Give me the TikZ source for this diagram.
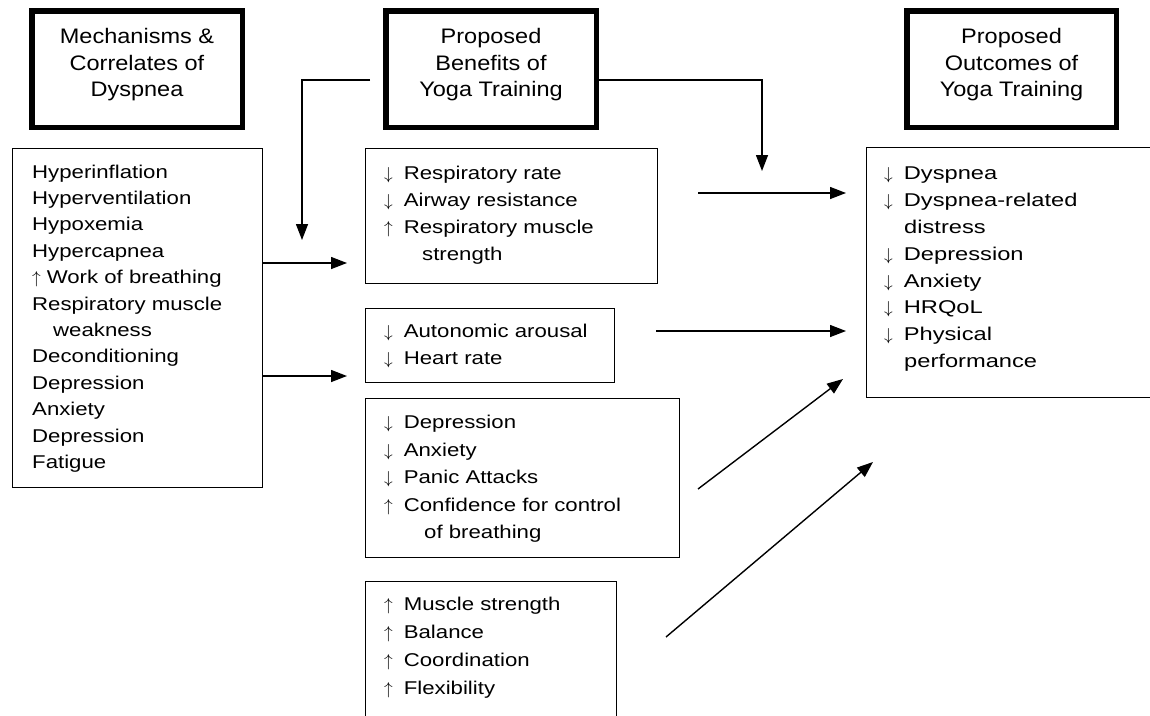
\documentclass[tikz,border=0pt]{standalone}
\usepackage{fontspec}
\setmainfont[FakeStretch=1.2]{Liberation Sans}
\newfontfamily\hdfont[FakeStretch=1.12]{Liberation Sans}
\newfontfamily\ofont[FakeStretch=1.28]{Liberation Sans}
\newcommand{\myup}{$\uparrow$\hspace{11pt}}
\newcommand{\mydown}{$\downarrow$\hspace{11pt}}
\usetikzlibrary{arrows.meta}
\begin{document}
\begin{tikzpicture}[x=1pt,y=-1pt,
  hdbox/.style={draw, line width=5.5pt, inner sep=0pt, outer sep=0pt},
  box/.style={draw, line width=1.4pt, inner sep=0pt, outer sep=0pt},
  openbox/.style={line width=1.4pt},
  txt/.style={anchor=north west, inner sep=0pt, align=left, font=\fontsize{18.5}{#1}\selectfont},
  otxt/.style={anchor=north west, inner sep=0pt, align=left, font=\ofont\fontsize{18.5}{#1}\selectfont},
  hdtxt/.style={inner sep=0pt, align=center, font=\hdfont\fontsize{21}{26.5}\selectfont},
  conn/.style={line width=1.4pt, -{Triangle[length=16pt,width=12pt]}}
  ]
\useasboundingbox (0,0) rectangle (1150,715);
\fill[white] (0,0) rectangle (1150,715);

% header boxes
\node[hdbox, minimum width=210.5pt, minimum height=116.5pt] (H1) at (137,69) {};
\node[hdbox, minimum width=210.5pt, minimum height=116.5pt] (H2) at (491,69) {};
\node[hdbox, minimum width=209.5pt, minimum height=116.5pt] (H3) at (1011.5,69) {};
\node[hdtxt] (H1t) at (137,65) {Mechanisms \&\\Correlates of\\Dyspnea};
\node[hdtxt] (H2t) at (491,65) {Proposed\\Benefits of\\Yoga Training};
\node[hdtxt] (H3t) at (1011.5,65) {Proposed\\Outcomes of\\Yoga Training};

% content boxes
\node[box, minimum width=249.6pt, minimum height=338.6pt] (L) at (137.5,318) {};
\node[box, minimum width=291.6pt, minimum height=134.6pt] (B1) at (511.5,216) {};
\node[box, minimum width=248.6pt, minimum height=73.6pt] (B2) at (490,345.5) {};
\node[box, minimum width=313.6pt, minimum height=158.6pt] (B3) at (522.5,478) {};
\coordinate (B4nw) at (365.7,581.7);
\coordinate (B4ne) at (616.3,581.7);
\draw[openbox] (B4nw |- 0,716) -- (B4nw) -- (B4ne) -- (B4ne |- 0,716);
\coordinate (Onw) at (866.7,147.7);
\coordinate (Osw) at (866.7,397.3);
\draw[openbox] (1151,147.7) -- (Onw) -- (Osw) -- (1151,397.3);

% texts
\node[txt=26.4] (Lt) at (32,159.4) {\strut Hyperinflation\\Hyperventilation\\Hypoxemia\\Hypercapnea\\$\uparrow$\hspace{6pt}Work of breathing\\Respiratory muscle\\\hspace*{21pt}weakness\\Deconditioning\\Depression\\Anxiety\\Depression\\Fatigue};
\node[txt=27] (B1t) at (384,160.4) {\strut \mydown Respiratory rate\\\mydown Airway resistance\\\myup Respiratory muscle\\\hspace*{38pt}strength};
\node[txt=27] (B2t) at (384,318.4) {\strut \mydown Autonomic arousal\\\mydown Heart rate};
\node[txt=27.5] (B3t) at (384,409.4) {\strut \mydown Depression\\\mydown Anxiety\\\mydown Panic Attacks\\\myup Confidence for control\\\hspace*{40pt}of breathing};
\node[txt=28] (B4t) at (384,590.4) {\strut \myup Muscle strength\\\myup Balance\\\myup Coordination\\\myup Flexibility};
\node[otxt=26.9] (Ot) at (884,160.4) {\strut \mydown Dyspnea\\\mydown Dyspnea-related\\\hspace*{20pt}distress\\\mydown Depression\\\mydown Anxiety\\\mydown HRQoL\\\mydown Physical\\\hspace*{20pt}performance};

% connectors
\coordinate (c1s) at (370,80);
\coordinate (c1m) at (302,80);
\coordinate (c1e) at (302,240);
\draw[conn] (c1s) -- (c1m) -- (c1e);
\coordinate (c2m) at (762,80);
\coordinate (c2e) at (762,171);
\draw[conn] (H2.east |- c2m) -- (c2m) -- (c2e);
\coordinate (c3e) at (347,263);
\coordinate (c4e) at (347,376);
\draw[conn] (L.east |- c3e) -- (c3e);
\draw[conn] (L.east |- c4e) -- (c4e);
\coordinate (c5s) at (698,193);
\coordinate (c5e) at (846,193);
\draw[conn] (c5s) -- (c5e);
\coordinate (c6s) at (656,331);
\coordinate (c6e) at (846,331);
\draw[conn] (c6s) -- (c6e);
\coordinate (c7s) at (698,489);
\coordinate (c7e) at (843,379);
\draw[conn] (c7s) -- (c7e);
\coordinate (c8s) at (666,637);
\coordinate (c8e) at (873,462);
\draw[conn] (c8s) -- (c8e);
\end{tikzpicture}
\end{document}
